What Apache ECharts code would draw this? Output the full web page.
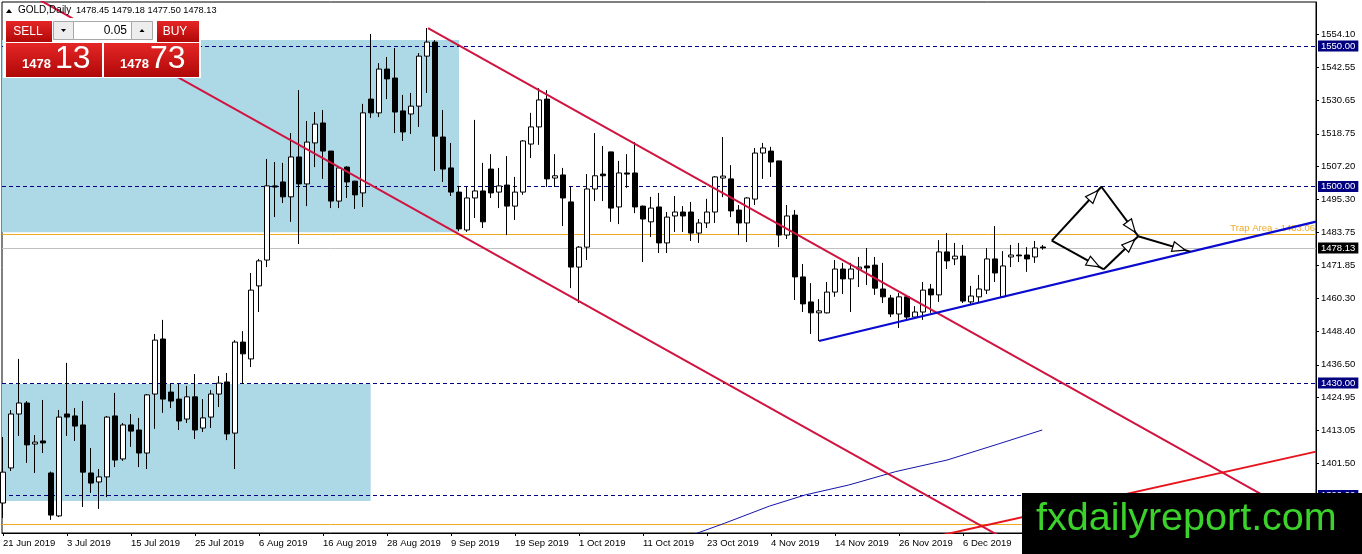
<!DOCTYPE html>
<html>
<head>
<meta charset="utf-8">
<title>GOLD, Daily</title>
<script src="https://cdn.jsdelivr.net/npm/echarts@6/dist/echarts.min.js"></script>
<style>
  html, body { margin: 0; padding: 0; background: #fff; }
  #chart { width: 1362px; height: 554px; }
</style>
</head>
<body>
<div id="chart"></div>
<script>
// GOLD daily bars, 21 Jun 2019 .. 20 Dec 2019 (bar index 0..130)
var opens = [1387.3,1399.8,1419.0,1422.9,1408.3,1409.4,1398.0,1382.7,1419.0,1418.3,
  1415.1,1398.0,1394.8,1396.6,1418.3,1403.0,1415.1,1413.3,1405.1,1426.1,
  1445.7,1426.8,1424.3,1417.2,1425.1,1414.0,1417.9,1426.1,1430.4,1412.2,
  1444.6,1438.6,1464.6,1473.8,1500.2,1501.6,1496.3,1510.5,1500.9,1515.5,
  1522.6,1512.6,1494.8,1506.9,1501.9,1497.7,1531.1,1526.2,1541.8,1538.6,
  1526.9,1525.8,1528.6,1546.4,1551.4,1517.6,1506.6,1498.0,1484.5,1495.9,
  1498.4,1506.2,1498.0,1500.5,1493.0,1498.0,1515.1,1521.2,1531.1,1503.0,
  1504.1,1494.5,1471.3,1478.4,1499.1,1504.4,1512.3,1492.7,1504.8,1504.8,
  1493.0,1487.4,1492.7,1479.9,1489.5,1490.9,1490.9,1483.4,1487.0,1490.9,
  1503.0,1502.7,1491.6,1487.0,1495.5,1511.9,1512.6,1509.1,1482.7,1489.8,
  1467.8,1458.9,1455.0,1455.0,1462.4,1470.6,1467.1,1470.6,1471.7,1472.0,
  1463.5,1460.3,1454.6,1460.7,1453.5,1455.3,1463.5,1461.4,1476.7,1474.2,
  1475.2,1458.9,1460.7,1463.1,1474.2,1460.7,1474.9,1475.6,1475.6,1474.9,
  1478.45];
var highs = [1410.8,1420.4,1438.6,1423.6,1411.5,1424.0,1398.5,1420.4,1437.2,1421.1,
  1423.6,1406.9,1399.4,1418.3,1426.5,1415.8,1419.0,1417.6,1426.1,1447.5,
  1452.5,1429.7,1429.7,1429.0,1433.2,1424.3,1427.5,1432.5,1433.6,1445.3,
  1448.5,1469.2,1474.2,1509.8,1508.7,1508.4,1519.0,1534.3,1523.3,1526.5,
  1527.2,1512.6,1506.9,1507.2,1502.0,1529.4,1554.3,1543.9,1546.1,1549.3,
  1532.6,1533.3,1547.5,1556.4,1552.1,1527.2,1515.5,1500.2,1499.8,1523.7,
  1508.4,1511.5,1506.6,1510.8,1503.4,1516.5,1526.2,1535.0,1534.3,1511.5,
  1506.6,1499.8,1478.8,1504.4,1519.0,1514.4,1512.4,1509.1,1511.5,1515.8,
  1493.2,1496.3,1497.7,1490.9,1496.6,1493.0,1494.5,1488.4,1495.6,1503.7,
  1517.6,1507.6,1493.4,1496.2,1513.7,1515.5,1514.1,1509.1,1493.4,1491.6,
  1472.4,1465.6,1459.9,1466.0,1473.8,1472.8,1472.8,1474.9,1478.1,1474.9,
  1472.8,1461.4,1462.1,1460.9,1457.4,1466.0,1465.3,1480.9,1483.4,1479.9,
  1479.2,1464.6,1468.5,1478.1,1485.9,1477.0,1479.2,1479.9,1478.4,1480.6,
  1479.18];
var lows = [1382.0,1398.7,1411.2,1401.6,1398.0,1405.1,1381.3,1382.3,1411.2,1409.4,
  1385.9,1390.9,1385.2,1389.4,1400.1,1402.3,1407.3,1400.1,1399.4,1413.7,
  1419.4,1421.1,1413.3,1415.8,1410.1,1412.6,1414.0,1421.5,1409.7,1399.4,
  1429.7,1435.7,1455.3,1471.3,1489.1,1494.1,1487.4,1479.5,1493.0,1506.9,
  1502.7,1492.3,1492.3,1495.9,1492.0,1492.7,1524.4,1524.7,1531.1,1519.0,
  1516.2,1518.7,1521.2,1533.3,1505.5,1501.6,1496.6,1484.1,1483.8,1488.8,
  1485.2,1495.9,1492.3,1482.7,1488.1,1497.0,1510.1,1514.8,1499.8,1499.8,
  1485.9,1463.8,1458.5,1473.8,1494.8,1494.8,1487.4,1486.6,1499.5,1490.5,
  1473.1,1482.0,1476.3,1476.3,1483.8,1483.8,1480.6,1479.9,1485.2,1487.0,
  1496.2,1489.1,1482.7,1480.2,1493.4,1502.7,1503.4,1478.4,1481.3,1459.6,
  1455.3,1447.5,1445.0,1454.8,1460.7,1461.7,1455.3,1464.2,1464.9,1461.4,
  1458.5,1453.5,1449.6,1452.1,1452.8,1452.5,1455.0,1458.9,1470.6,1472.0,
  1458.5,1458.2,1458.5,1461.7,1466.0,1460.6,1471.3,1473.1,1469.6,1472.8,
  1477.50];
var closes = [1398.3,1419.0,1422.9,1408.0,1409.0,1408.7,1383.0,1417.9,1417.9,1414.7,
  1398.3,1394.4,1396.6,1417.9,1402.6,1415.1,1412.9,1405.1,1425.8,1445.3,
  1424.3,1423.6,1416.5,1425.1,1413.3,1417.6,1426.1,1430.0,1411.9,1444.6,
  1440.4,1463.1,1473.5,1500.2,1499.8,1496.3,1510.5,1500.9,1515.8,1522.2,
  1512.6,1494.8,1506.6,1501.6,1497.0,1526.2,1526.2,1541.8,1538.3,1526.5,
  1519.4,1528.6,1546.4,1551.4,1517.9,1506.2,1498.0,1484.9,1495.9,1498.4,
  1487.4,1497.7,1500.2,1493.0,1498.0,1516.2,1521.2,1530.8,1502.7,1503.8,
  1495.9,1471.3,1478.4,1499.1,1503.8,1503.8,1492.3,1504.8,1504.4,1492.7,
  1488.4,1492.3,1479.9,1489.1,1490.9,1489.5,1483.4,1487.0,1490.9,1503.4,
  1503.7,1491.3,1487.0,1495.9,1511.9,1513.7,1508.7,1482.7,1489.5,1467.8,
  1458.2,1455.0,1455.7,1462.4,1470.6,1467.1,1470.6,1471.3,1471.0,1463.8,
  1460.7,1454.6,1460.7,1453.5,1455.3,1463.1,1461.4,1476.7,1473.5,1475.2,
  1459.2,1461.0,1463.5,1474.2,1469.2,1471.7,1475.6,1475.3,1474.2,1478.1,
  1478.13];

// thin moving average, points read at bar index
var maPoints = [[85,1374.5],[86.7,1376.5],[90.2,1380.1],[95.8,1386.2],[100.3,1390.2],
  [105.7,1393.7],[111.6,1398.5],[118.0,1402.6],[124.4,1408.3],[129.9,1413.3]];

// drawn objects, [bar index, price]
var upperChannel = [[53.125,1556.4],[164.125,1379.5]];
var lowerChannel = [[3.5,1568.1],[130,1366.9]];
var supportLine = [[102,1445.0],[164.125,1487.5]];
var redLine = [[110,1371.2],[164.125,1405.6]];
var arrowLegs = [
  [131.1,1480.7,137.3,1499.9],
  [137.3,1499.9,141.9,1482.3],
  [131.1,1480.7,137.6,1470.5],
  [137.6,1470.5,141.9,1482.3],
  [141.9,1482.3,148.4,1476.8]
];
var boxes = [
  { from: [-0.125,1552.1], to: [57.0,1483.7] },
  { from: [-0.125,1429.7], to: [45.96,1388.0] }
];
var levels = [1550, 1500, 1430, 1390];
var trapLevel = 1483.06, lowTrap = 1379.8, bid = 1478.13;

var xTickIdx = [0,8,16,24,32,40,48,56,64,72,80,88,96,104,112,120,128];
var xTickLabels = ['21 Jun 2019','3 Jul 2019','15 Jul 2019','25 Jul 2019','6 Aug 2019',
  '16 Aug 2019','28 Aug 2019','9 Sep 2019','19 Sep 2019','1 Oct 2019','11 Oct 2019',
  '23 Oct 2019','4 Nov 2019','14 Nov 2019','26 Nov 2019','6 Dec 2019','18 Dec 2019'];
var yTicks = [1554.10,1542.55,1530.65,1518.75,1507.20,1495.30,1483.75,1471.85,
  1460.30,1448.40,1436.50,1424.95,1413.05,1401.50];

var FONT = 'Liberation Sans';
var NAVY = '#000080', GOLDEN = '#EEAA22', CRIMSON = '#D0143F';

var candles = opens.map(function (o, i) { return [i, o, closes[i], lows[i], highs[i]]; });

function boxLabel(txt, bg) {
  return { show: true, position: 'end', distance: 2, formatter: txt, color: '#fff',
    backgroundColor: bg, padding: [1, 3, 0, 3], fontSize: 9.5, fontFamily: FONT };
}

var levelLines = levels.map(function (v) {
  return { yAxis: v, lineStyle: { color: NAVY, type: [4, 3], width: 1 },
    label: boxLabel(v.toFixed(2), NAVY) };
});
levelLines.push({ yAxis: trapLevel, lineStyle: { color: GOLDEN, type: 'solid', width: 1 },
  label: { show: true, position: 'insideEndTop', distance: 1, formatter: 'Trap Area - ' + trapLevel.toFixed(2),
    color: GOLDEN, fontSize: 9.5, fontFamily: FONT } });
levelLines.push({ yAxis: lowTrap, lineStyle: { color: GOLDEN, type: 'solid', width: 1 }, label: { show: false } });
levelLines.push({ yAxis: bid, lineStyle: { color: '#C0C0C0', type: 'solid', width: 1 },
  label: boxLabel(bid.toFixed(2), '#000') });

function trend(data, color, width, z) {
  return { type: 'line', data: data, showSymbol: false, symbol: 'none', silent: true, z: z || 3,
    lineStyle: { color: color, width: width }, clip: true };
}

// overlay pieces (MT4 header, one-click trading panel, watermark) sit above the series
var TOP = 100;
function redBox(x, y, w, h) {
  return { type: 'rect', z: TOP, shape: { x: x, y: y, width: w, height: h },
    style: { fill: new echarts.graphic.LinearGradient(0, 0, 0, 1, [
      { offset: 0, color: '#E52626' }, { offset: 1, color: '#B00808' }]) } };
}
function plain(type, shape, style) { return { type: type, z: TOP, shape: shape, style: style }; }
function txt(x, y, s, size, color, opts) {
  var st = { x: x, y: y, text: s, fill: color, fontSize: size, fontFamily: FONT,
    textVerticalAlign: 'middle', verticalAlign: 'middle' };
  for (var k in opts || {}) st[k] = opts[k];
  return { type: 'text', z: TOP + 1, style: st };
}

var panel = [
  plain('rect', { x: 3, y: 18, width: 198, height: 60 }, { fill: '#fff' }),
  redBox(6, 21, 46, 21), txt(28, 31.5, 'SELL', 12, '#fff', { align: 'center', textAlign: 'center' }),
  plain('rect', { x: 53.5, y: 21.5, width: 20, height: 18 }, { fill: '#EDEDED', stroke: '#A8A8A8' }),
  plain('polygon', { points: [[61, 29], [66, 29], [63.5, 32]] }, { fill: '#000' }),
  plain('rect', { x: 73.5, y: 21.5, width: 58, height: 18 }, { fill: '#fff', stroke: '#A8A8A8' }),
  txt(127, 30.5, '0.05', 12, '#000', { align: 'right', textAlign: 'right' }),
  plain('rect', { x: 131.5, y: 21.5, width: 21, height: 18 }, { fill: '#EDEDED', stroke: '#A8A8A8' }),
  plain('polygon', { points: [[139.5, 32], [144.5, 32], [142, 29]] }, { fill: '#000' }),
  redBox(157, 21, 42, 21), txt(175, 31.5, 'BUY', 12, '#fff', { align: 'center', textAlign: 'center' }),
  redBox(6, 43, 96, 34), redBox(104, 43, 95, 34),
  plain('line', { x1: 9, y1: 42.5, x2: 49, y2: 42.5 }, { stroke: 'rgba(255,255,255,0.45)', lineWidth: 1 }),
  plain('line', { x1: 160, y1: 42.5, x2: 196, y2: 42.5 }, { stroke: 'rgba(255,255,255,0.45)', lineWidth: 1 }),
  txt(22, 64.5, '1478', 13, '#fff', { fontWeight: 'bold' }),
  txt(55, 59, '13', 32, '#fff'),
  txt(120, 64.5, '1478', 13, '#fff', { fontWeight: 'bold' }),
  txt(150, 59, '73', 32, '#fff')
];

var header = [
  plain('polygon', { points: [[6, 13], [12, 13], [9, 9]] }, { fill: '#000' }),
  txt(18, 10.5, 'GOLD,Daily', 10, '#000'),
  txt(76, 10.5, '1478.45 1479.18 1477.50 1478.13', 9.2, '#000')
];

var watermark = [
  plain('rect', { x: 1022, y: 493, width: 340, height: 61 }, { fill: '#000' }),
  txt(1036, 519, 'fxdailyreport.com', 39.5, '#3CD22C')
];

var chart = echarts.init(document.getElementById('chart'), null, { renderer: 'canvas' });
chart.setOption({
  animation: false,
  backgroundColor: '#fff',
  textStyle: { fontFamily: FONT },
  grid: { left: 2, right: 46, top: 2, bottom: 21, show: true, borderColor: '#000', borderWidth: 1,
    backgroundColor: '#fff', containLabel: false, outerBoundsMode: 'none' },
  xAxis: {
    type: 'value', min: -0.125, max: 164.125, splitLine: { show: false },
    axisLine: { show: true, onZero: false, lineStyle: { color: '#000', width: 1 } },
    axisTick: { show: true, customValues: xTickIdx, length: 3, lineStyle: { color: '#000' } },
    axisLabel: { customValues: xTickIdx, align: 'left', margin: 5, fontSize: 9.5, color: '#000',
      fontFamily: FONT, formatter: function (v) { var k = xTickIdx.indexOf(v); return k < 0 ? '' : xTickLabels[k]; } }
  },
  yAxis: {
    type: 'value', position: 'right', min: 1376.63, max: 1565.67, scale: true, splitLine: { show: false },
    axisLine: { show: true, onZero: false, lineStyle: { color: '#000', width: 1 } },
    axisTick: { show: true, inside: false, customValues: yTicks, length: 3, lineStyle: { color: '#000' } },
    axisLabel: { customValues: yTicks, margin: 5, fontSize: 9.5, color: '#000', fontFamily: FONT,
      formatter: function (v) { return v.toFixed(2); } }
  },
  series: [
    {
      type: 'candlestick', data: candles, encode: { x: 0, y: [1, 2, 3, 4] },
      barWidth: 5, z: 2, silent: true,
      itemStyle: { color: '#fff', color0: '#000', borderColor: '#000', borderColor0: '#000', borderWidth: 1 },
      markArea: { silent: true, z: 0, itemStyle: { color: '#ADD8E6' },
        data: boxes.map(function (b) { return [{ coord: b.from }, { coord: b.to }]; }) },
      markLine: { silent: true, z: 1, symbol: ['none', 'none'], animation: false, data: levelLines }
    },
    trend(maPoints, '#1414A8', 1, 3),
    trend(lowerChannel, CRIMSON, 2, 4),
    trend(upperChannel, CRIMSON, 2, 4),
    trend(redLine, '#E8141C', 2, 4),
    trend(supportLine, '#0A0AD0', 2.2, 4),
    {
      type: 'custom', data: arrowLegs, encode: { x: [0, 2], y: [1, 3] }, z: 5, silent: true,
      renderItem: function (params, api) {
        var a = api.coord([api.value(0), api.value(1)]);
        var b = api.coord([api.value(2), api.value(3)]);
        var dx = b[0] - a[0], dy = b[1] - a[1], len = Math.sqrt(dx * dx + dy * dy);
        var ux = dx / len, uy = dy / len;
        var tip = [b[0] - ux * 5, b[1] - uy * 5];
        var base = [tip[0] - ux * 13, tip[1] - uy * 13];
        var px = -uy * 5, py = ux * 5;
        return { type: 'group', children: [
          { type: 'line', shape: { x1: a[0], y1: a[1], x2: b[0], y2: b[1] }, style: { stroke: '#000', lineWidth: 2 } },
          { type: 'polygon', shape: { points: [tip, [base[0] + px, base[1] + py], [base[0] - px, base[1] - py]] },
            style: { fill: '#fff', stroke: '#000', lineWidth: 1.2 } }
        ] };
      }
    }
  ],
  graphic: header.concat(panel, watermark)
});
</script>
</body>
</html>
